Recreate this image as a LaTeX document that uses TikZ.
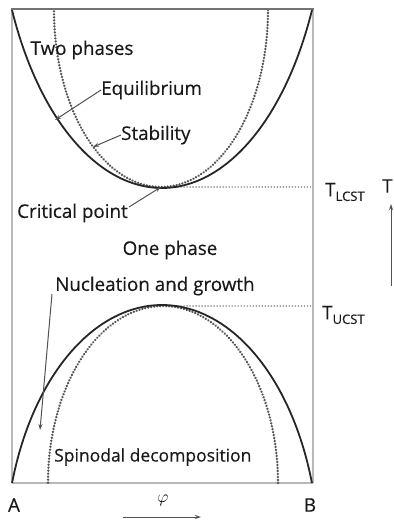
\documentclass[tikz,border=0pt]{standalone}
\usepackage{fontspec}
\setmainfont{Open Sans}
\newfontfamily\lblfont{Open Sans}[FakeBold=0.35]
\usetikzlibrary{arrows.meta}
\definecolor{boxgray}{gray}{0.72}
\definecolor{topgray}{gray}{0.45}
\definecolor{curvecol}{gray}{0.15}
\definecolor{dotcol}{gray}{0.33}
\definecolor{tiecol}{gray}{0.6}
\definecolor{arrcol}{gray}{0.32}
\tikzset{
  lbl/.style={font=\lblfont\fontsize{18.8}{22}\selectfont, inner sep=0pt, text=black!90},
  solidcurve/.style={draw=curvecol, line width=1.8pt},
  dotcurve/.style={draw=dotcol, line width=2.6pt, dash pattern=on 0.01pt off 3pt, line cap=round},
  dotline/.style={draw=tiecol, line width=1.8pt, dash pattern=on 0.01pt off 3pt, line cap=round},
  pointer/.style={draw=arrcol, line width=1pt, -{Stealth[length=6pt,width=4pt]}}
}
\newcommand{\tsub}[1]{T\raisebox{-0.45ex}{\fontsize{13}{15}\selectfont #1}}
\begin{document}
\begin{tikzpicture}[x=1pt,y=-1pt]
\useasboundingbox (0,0) rectangle (393,521);
% frame
\draw[boxgray, line width=1.4pt] (12,9) -- (12,483);
\draw[boxgray, line width=1.4pt] (313,9) -- (313,483);
\draw[boxgray, line width=1.6pt] (12,483) -- (313,483);
% dotted tie lines
\draw[dotline] (172,187) -- (313,187);
\draw[dotline] (172,306) -- (313,306);
% upper curves
\draw[dotcurve] plot[domain=0:180, samples=120, variable=\t] ({161+107*cos(\t)},{10+177*sin(\t)});
\draw[solidcurve] plot[domain=-65.4:65.4, samples=120, variable=\t] ({162+165*sin(\t)},{-117+305*cos(\t)});
% lower curves
\draw[dotcurve] plot[domain=0:180, samples=120, variable=\t] ({163+115*cos(\t)},{483-177*sin(\t)});
\draw[solidcurve] plot[domain=-72.76:72.76, samples=120, variable=\t] ({162+157*sin(\t)},{558-253*cos(\t)});
\draw[topgray, line width=2.4pt] (11,9) -- (314,9);
% labels
\node[lbl] (two) at (82,50) {Two phases};
\node[lbl, anchor=west] (equ) at (101,90) {Equilibrium};
\node[lbl, anchor=west] (stab) at (121,135) {Stability};
\node[lbl, anchor=west] (crit) at (17,213) {Critical point};
\node[lbl] (one) at (170,250) {One phase};
\node[lbl, anchor=west] (nuc) at (55,286) {Nucleation and growth};
\node[lbl, anchor=west, font=\lblfont\fontsize{17.5}{21}\selectfont] (spin) at (54,457) {Spinodal decomposition};
\node[lbl] (A) at (14,505) {A};
\node[lbl] (B) at (310,505) {B};
\node[inner sep=0pt, font=\fontsize{16}{18}\selectfont] (phi) at (163,500) {$\varphi$};
\node[lbl, anchor=west] (tl) at (325,192) {\tsub{LCST}};
\node[lbl, anchor=west] (tu) at (322,315) {\tsub{UCST}};
\node[lbl, anchor=west] (T) at (382,186) {T};
% pointer targets
\coordinate (pe) at (55,120);
\coordinate (ps) at (93,147);
\coordinate (pc) at (161,187);
\coordinate (pn) at (40,430);
\coordinate (cstart) at (129,207);
\coordinate (nstart) at (52,294);
\coordinate (phis) at (123,517);
\coordinate (phie) at (201,517);
\coordinate (ts) at (391,286);
\coordinate (te) at (391,204);
\draw[pointer] (equ.west) -- (pe);
\draw[pointer] (stab.west) -- (ps);
\draw[pointer] (cstart) -- (pc);
\draw[pointer] (nstart) -- (pn);
\draw[pointer] (phis) -- (phie);
\draw[pointer] (ts) -- (te);
\end{tikzpicture}
\end{document}
